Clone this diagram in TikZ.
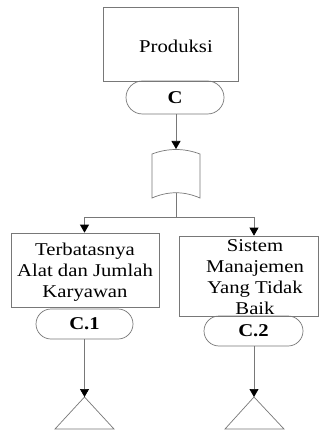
\documentclass[tikz,border=0pt]{standalone}
\usepackage{fontspec}
\setmainfont{Liberation Serif}[FakeStretch=1.15]
\usetikzlibrary{arrows.meta,shapes.misc}
\definecolor{edge}{RGB}{120,120,120}
\tikzset{
  box/.style={draw=edge,line width=0.7pt,rectangle,inner sep=0pt},
  tag/.style={draw=edge,line width=0.7pt,rounded rectangle,inner sep=0pt,
    font=\fontsize{18}{21}\selectfont\bfseries},
  wire/.style={draw=edge,line width=0.7pt},
  arr/.style={wire,-{Triangle[length=8pt,width=9pt,black]}},
  lbl/.style={align=center,inner sep=0pt,font=\fontsize{18}{21}\selectfont}
}
\begin{document}
\begin{tikzpicture}[x=1pt,y=-1pt]
\useasboundingbox (0,0) rectangle (321,430);
\fill[white] (0,0) rectangle (321,430);

% top process
\node[box,minimum width=135pt,minimum height=74pt] (prod) at (170.5,44) {};
\node[lbl] (prodtext) at (176,46) {Produksi};
\node[tag,minimum width=98pt,minimum height=33pt] (c) at (175,97.5) {C};

% document symbol
\coordinate (doctop) at (176,149);
\coordinate (docbot) at (176,193);
\draw[wire] (152,154) .. controls (168,148) and (184,148) .. (200,154)
  -- (200,198) .. controls (184,191) and (168,191) .. (152,198) -- cycle;

% branch junction
\coordinate (split) at (176,217);
\coordinate (splitl) at (84.5,217);
\coordinate (splitr) at (254,217);

% left cause
\node[box,minimum width=148pt,minimum height=74pt] (left) at (85,270) {};
\node[lbl] (lefttext) at (85,272) {Terbatasnya\\Alat dan Jumlah\\Karyawan};
\node[tag,minimum width=97pt,minimum height=30pt] (c1) at (84.5,324) {C.1};

% right cause
\node[box,minimum width=139pt,minimum height=80pt] (right) at (248.5,276) {};
\node[lbl] (righttext) at (255,277) {Sistem\\Manajemen\\Yang Tidak\\Baik};
\node[tag,minimum width=99pt,minimum height=30pt] (c2) at (253.5,331) {C.2};

% off-page connectors
\coordinate (tl) at (84.5,397);
\coordinate (tr) at (254,397);
\draw[wire] (tl) -- (114,429) -- (55,429) -- cycle;
\draw[wire] (tr) -- (284,429) -- (225,429) -- cycle;

% connectors
\draw[arr] (c.south -| doctop) -- (doctop);
\draw[wire] (docbot) -- (split);
\draw[wire] (splitl) -- (splitr);
\draw[arr] (splitl) -- (left.north -| splitl);
\draw[arr] (splitr) -- (right.north -| splitr);
\draw[arr] (c1.south -| tl) -- (tl);
\draw[arr] (c2.south -| tr) -- (tr);
\end{tikzpicture}
\end{document}
